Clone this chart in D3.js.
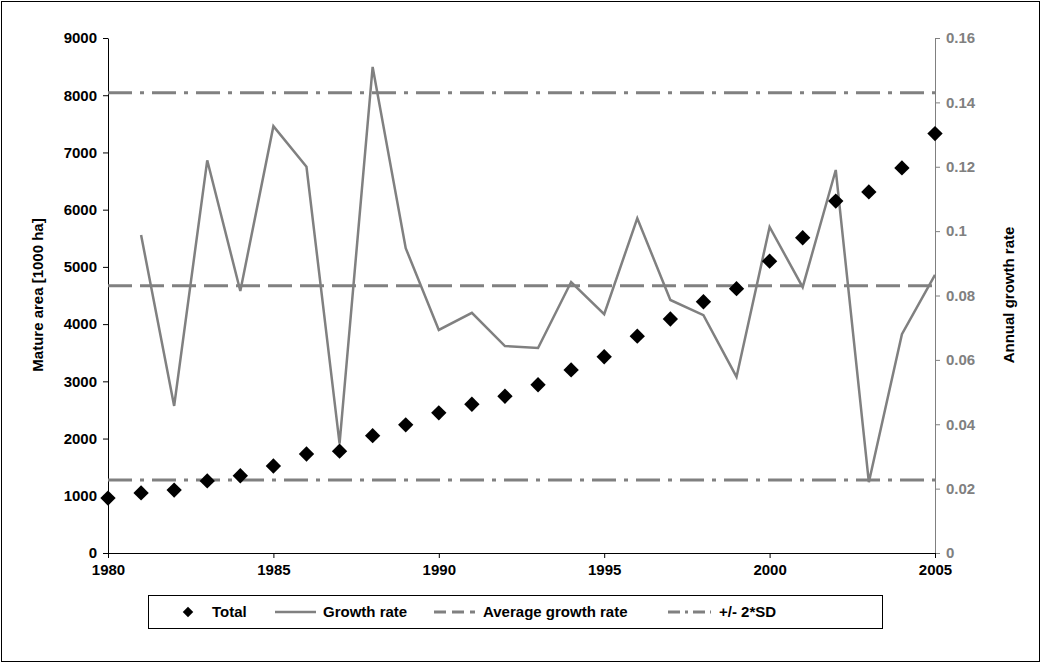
<!DOCTYPE html>
<html><head><meta charset="utf-8">
<script src="https://cdn.jsdelivr.net/npm/d3@7"></script>
<style>body{margin:0;background:#fff;font-family:Arial,"Liberation Sans",sans-serif;} text{font-family:Arial,"Liberation Sans",sans-serif;}</style>
</head><body><div id="chart"></div>
<script>
// data
var years = d3.range(1980, 2006);
var total = [960,1050,1100,1260,1350,1520,1730,1780,2050,2240,2450,2600,2740,2940,3200,3430,3790,4090,4390,4620,5100,5510,6150,6310,6730,7330];
var growthYears = d3.range(1981, 2006);
var growth = [0.0988,0.0457,0.122,0.0814,0.1326,0.120,0.034,0.151,0.0947,0.0693,0.0746,0.0643,0.0637,0.0842,0.0742,0.104,0.0786,0.0739,0.0547,0.1013,0.0826,0.119,0.022,0.068,0.0864];
var avgGrowth = 0.083;
var sdBands = [0.143, 0.0227];
var leftTicks = [0,1000,2000,3000,4000,5000,6000,7000,8000,9000];
var rightTicks = [0,0.02,0.04,0.06,0.08,0.1,0.12,0.14,0.16];
var xTicks = [1980,1985,1990,1995,2000,2005];

var W = 1041, H = 663;
var svg = d3.select("#chart").append("svg").attr("width", W).attr("height", H);
svg.append("rect").attr("x",1.5).attr("y",1.5).attr("width",W-3).attr("height",H-3).attr("fill","#fff").attr("stroke","#000");

var x = d3.scaleLinear().domain([1980,2005]).range([108,935]);
var yL = d3.scaleLinear().domain([0,9000]).range([553,38]);
var yR = d3.scaleLinear().domain([0,0.16]).range([553,38]);
var grey = "#808080";

function styleText(g, fill) {
  g.attr("font-family", null).attr("font-size", null);
  g.selectAll("text").style("font-size","15px").style("font-weight","bold").attr("fill", fill);
}

// axes
var gl = svg.append("g").attr("transform","translate(108,0)")
  .call(d3.axisLeft(yL).tickValues(leftTicks).tickFormat(d3.format("d")).tickSize(5).tickSizeOuter(0).tickPadding(6));
styleText(gl, "#000");

var gr = svg.append("g").attr("transform","translate(935,0)")
  .call(d3.axisRight(yR).tickValues(rightTicks).tickFormat(d => String(+d.toFixed(2))).tickSize(5).tickSizeOuter(0).tickPadding(6));
gr.select(".domain").attr("stroke",grey);
gr.selectAll("line").attr("stroke",grey);
styleText(gr, grey);

var gx = svg.append("g").attr("transform","translate(0,553)")
  .call(d3.axisBottom(x).tickValues(xTicks).tickFormat(d3.format("d")).tickSize(5).tickSizeOuter(0).tickPadding(6));
styleText(gx, "#000");

svg.append("text").attr("transform","translate(43,295) rotate(-90)").attr("text-anchor","middle")
  .style("font-size","15px").style("font-weight","bold").text("Mature area [1000 ha]");
svg.append("text").attr("transform","translate(1014,295) rotate(-90)").attr("text-anchor","middle")
  .style("font-size","15px").style("font-weight","bold").text("Annual growth rate");

// reference lines
svg.append("line").attr("x1",108).attr("x2",935).attr("y1",yR(avgGrowth)).attr("y2",yR(avgGrowth))
  .attr("stroke",grey).attr("stroke-width",3).attr("stroke-dasharray","24,8");
sdBands.forEach(function(v){
  svg.append("line").attr("x1",108).attr("x2",935).attr("y1",yR(v)).attr("y2",yR(v))
    .attr("stroke",grey).attr("stroke-width",3).attr("stroke-dasharray","24,8,4,8");
});

// growth line
svg.append("path").datum(growth).attr("fill","none").attr("stroke",grey).attr("stroke-width",2.5)
  .attr("d", d3.line().x((d,i) => x(growthYears[i])).y(d => yR(d)));

// diamonds
var diamond = d3.symbol().type(d3.symbolDiamond2).size(150);
svg.selectAll(".pt").data(total).enter().append("path")
  .attr("transform",(d,i) => "translate(" + x(years[i]) + "," + yL(d) + ")")
  .attr("d", diamond).attr("fill","#000");

// legend
var lg = svg.append("g");
lg.append("rect").attr("x",148.5).attr("y",595.5).attr("width",734).attr("height",33).attr("fill","#fff").attr("stroke","#000");
lg.append("path").attr("transform","translate(188,612)").attr("d", d3.symbol().type(d3.symbolDiamond2).size(70)).attr("fill","#000");
function lt(xp, s){ lg.append("text").attr("x",xp).attr("y",617).style("font-size","15px").style("font-weight","bold").text(s); }
lt(212,"Total");
lg.append("line").attr("x1",275).attr("x2",316).attr("y1",612).attr("y2",612).attr("stroke",grey).attr("stroke-width",2.5);
lt(323,"Growth rate");
lg.append("line").attr("x1",434).attr("x2",475).attr("y1",612).attr("y2",612).attr("stroke",grey).attr("stroke-width",3).attr("stroke-dasharray","12,6");
lt(483,"Average growth rate");
lg.append("line").attr("x1",668).attr("x2",711).attr("y1",612).attr("y2",612).attr("stroke",grey).attr("stroke-width",3).attr("stroke-dasharray","12,5,3,5");
lt(719,"+/- 2*SD");
</script></body></html>
